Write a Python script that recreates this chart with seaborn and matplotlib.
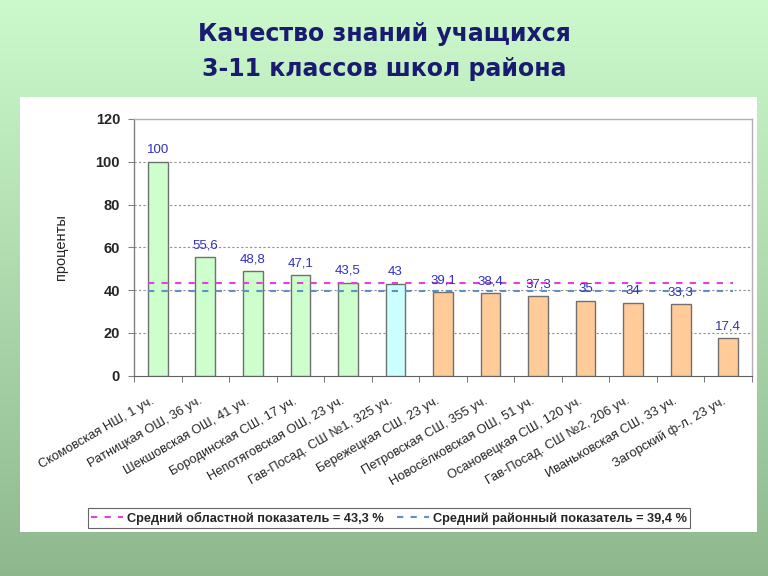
import numpy as np
import matplotlib
matplotlib.use("Agg")
import matplotlib.pyplot as plt
import matplotlib.transforms as mtransforms
from matplotlib.patches import Rectangle
from matplotlib.lines import Line2D
import seaborn as sns

schools = ["Скомовская НШ, 1 уч.", "Ратницкая ОШ, 36 уч.", "Шекшовская ОШ, 41 уч.",
           "Бородинская СШ, 17 уч.", "Непотяговская ОШ, 23 уч.", "Гав-Посад. СШ №1, 325 уч.",
           "Бережецкая СШ, 23 уч.", "Петровская СШ, 355 уч.", "Новосёлковская ОШ, 51 уч.",
           "Осановецкая СШ, 120 уч.", "Гав-Посад. СШ №2, 206 уч.", "Иваньковская СШ, 33 уч.",
           "Загорский ф-л, 23 уч."]
values = [100, 55.6, 48.8, 47.1, 43.5, 43, 39.1, 38.4, 37.3, 35, 34, 33.3, 17.4]
value_labels = ["100", "55,6", "48,8", "47,1", "43,5", "43", "39,1", "38,4", "37,3",
                "35", "34", "33,3", "17,4"]
groups = ["above"] * 5 + ["avg"] + ["below"] * 7
regional_avg = 43.3
district_avg = 39.4
legend_labels = ["Средний областной показатель = 43,3 %", "Средний районный показатель = 39,4 %"]
title_lines = "Качество знаний учащихся\n3-11 классов школ района"
ylabel = "проценты"
yticks = [0, 20, 40, 60, 80, 100, 120]

group_colors = {"above": "#ccffcc", "avg": "#ccffff", "below": "#ffcc99"}

sns.set_style("white")
plt.rcParams['font.family'] = ['Liberation Sans', 'DejaVu Sans']

W, H = 768, 576
fig = plt.figure(figsize=(W / 100, H / 100), dpi=100)

# gradient background
bg = fig.add_axes([0, 0, 1, 1], zorder=-10)
grad = np.linspace(0, 1, 256)[:, None]
top = np.array([0.80, 0.98, 0.80])
bot = np.array([0.56, 0.72, 0.56])
img = top[None, None, :] * (1 - grad[:, :, None]) + bot[None, None, :] * grad[:, :, None]
bg.imshow(img, aspect='auto', extent=[0, 1, 0, 1])
bg.set_axis_off()

# white panel
fig.patches.append(Rectangle((20 / W, 1 - 532 / H), (757 - 20) / W, (532 - 97) / H,
                             transform=fig.transFigure, facecolor="white",
                             edgecolor="none", zorder=-5))

fig.text(384 / W, 1 - 51.5 / H, title_lines, ha="center", va="center",
         fontsize=17, fontweight="bold", color="#1a1a70",
         family=["DejaVu Sans"], linespacing=1.55)

ax = fig.add_axes([134 / W, 1 - 375.5 / H, (752 - 134) / W, (375.5 - 119) / H])
ax.set_facecolor("white")

palette = [group_colors[g] for g in groups]
sns.barplot(x=schools, y=values, hue=schools, palette=palette, legend=False,
            width=0.415, edgecolor="#707070", linewidth=1.0, ax=ax, saturation=1, zorder=3)

ax.set_xlim(-0.5, len(schools) - 0.5)
ax.set_ylim(0, 120)
ax.set_yticks(yticks)
ax.set_yticklabels([str(t) for t in yticks], fontsize=10.5, fontweight="bold")

for y in yticks[1:-1]:
    ax.axhline(y, color="#909090", linestyle=(0, (2, 2)), linewidth=0.8, zorder=1)

for s in ["top", "right", "left"]:
    ax.spines[s].set_color("#b0b0b0")
    ax.spines[s].set_linewidth(1.0)
ax.spines["bottom"].set_color("#606060")
ax.spines["left"].set_color("#808080")

ax.tick_params(axis="y", length=4, direction="out", color="#808080", left=True, pad=6)
ax.set_xticks(np.arange(len(schools)))
ax.set_xticklabels(schools, rotation=30, ha="right", rotation_mode="anchor", fontsize=9.3)
ax.tick_params(axis="x", length=0, pad=14)
ax.set_xticks(np.arange(len(schools) + 1) - 0.5, minor=True)
ax.tick_params(axis="x", which="minor", length=4, direction="out", color="#606060", bottom=True)
offset = mtransforms.ScaledTranslation(-7 / 100, 0, fig.dpi_scale_trans)
for lab in ax.get_xticklabels():
    lab.set_transform(lab.get_transform() + offset)
ax.set_xlabel("")
ax.set_ylabel(ylabel, fontsize=10.5, labelpad=20, fontweight="medium")

x0, x1 = -0.2, len(schools) - 0.9
ax.hlines(regional_avg, x0, x1, colors="#e040e0", linestyles=(0, (3, 3.5)), linewidth=1.5, zorder=4)
ax.hlines(district_avg, x0, x1, colors="#5f8fc8", linestyles=(0, (3, 3.5)), linewidth=1.5, zorder=4)

for i, (v, t) in enumerate(zip(values, value_labels)):
    ax.annotate(t, (i, v), xytext=(0, 4), textcoords="offset points", ha="center",
                va="bottom", fontsize=9.5, color="#3030c0", zorder=5)

handles = [Line2D([0], [0], color="#e040e0", linestyle=(0, (3, 3.5)), linewidth=1.5),
           Line2D([0], [0], color="#5f8fc8", linestyle=(0, (3, 3.5)), linewidth=1.5)]
leg = fig.legend(handles, legend_labels, loc="center", ncol=2,
                 bbox_to_anchor=(389 / W, 1 - 518 / H), frameon=True, fancybox=False,
                 fontsize=9.2, handlelength=2.5, handletextpad=0.3, columnspacing=1.0,
                 borderpad=0.25, edgecolor="#404040")
leg.get_frame().set_linewidth(0.8)
for t in leg.get_texts():
    t.set_fontweight("bold")

fig.savefig("out.png", dpi=100)
